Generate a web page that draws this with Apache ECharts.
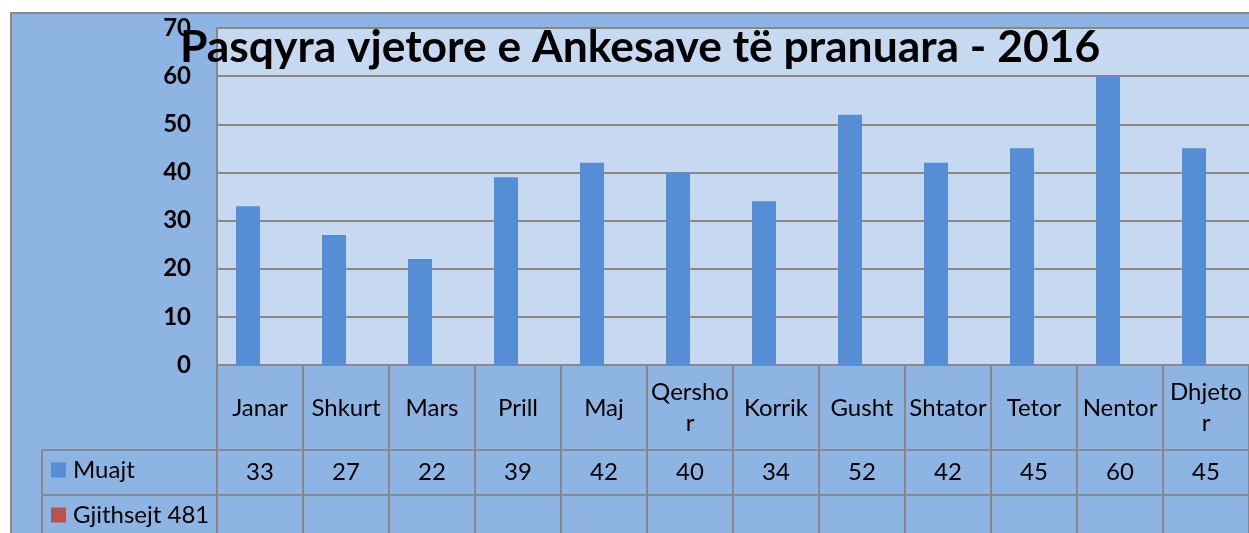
<!DOCTYPE html>
<html>
<head>
<meta charset="utf-8">
<script src="https://cdn.jsdelivr.net/npm/echarts@6/dist/echarts.min.js"></script>
<style>
html,body{margin:0;padding:0;width:1249px;height:533px;overflow:hidden;background:#fff;}
#frame{position:absolute;left:10px;top:12px;width:1300px;height:600px;background:#8EB4E3;border:2px solid #888;box-sizing:border-box;}
#chart{position:absolute;left:0;top:0;width:1249px;height:533px;}
</style>
</head>
<body>
<div id="frame"></div>
<div id="chart"></div>
<script>
const titleText = 'Pasqyra vjetore e Ankesave të pranuara - 2016';
const categories = ['Janar','Shkurt','Mars','Prill','Maj','Qershor','Korrik','Gusht','Shtator','Tetor','Nentor','Dhjetor'];
const muajt = [33,27,22,39,42,40,34,52,42,45,60,45];
const gjithsejt = [null,null,null,null,null,null,null,null,null,null,null,null];
const seriesNames = ['Muajt','Gjithsejt 481'];
const yTicks = [0,10,20,30,40,50,60,70];

const wrapped = {'Qershor':'Qersho\nr','Dhjetor':'Dhjeto\nr'};
const FONT = 'Lato';
const LINE = '#888888';
const legendText = {fontFamily: FONT, fontSize: 24, color: '#000', padding: [0,0,0,2]};

const chart = echarts.init(document.getElementById('chart'), null, {renderer:'canvas'});
chart.setOption({
  backgroundColor: 'transparent',
  animation: false,
  title: {
    text: titleText,
    left: 180, top: 26, padding: 0,
    z: 20,
    textStyle: {fontFamily: FONT, fontWeight: 'bold', fontSize: 44.4, color: '#000'}
  },
  legend: [
    {
      left: 51, top: 458, padding: 0,
      icon: 'rect', itemWidth: 15, itemHeight: 15,
      data: [seriesNames[0]], textStyle: legendText
    },
    {
      left: 51, top: 503, padding: 0,
      icon: 'rect', itemWidth: 15, itemHeight: 15,
      data: [seriesNames[1]], textStyle: legendText
    }
  ],
  grid: {
    left: 217, top: 28, right: -8, bottom: 168,
    show: true, backgroundColor: '#C6D9F1', borderWidth: 0
  },
  xAxis: [
    {
      type: 'category', data: categories, position: 'bottom',
      axisLine: {show: true, lineStyle: {color: LINE, width: 2}},
      axisTick: {show: true, length: 200, lineStyle: {color: LINE, width: 2}},
      axisLabel: {
        margin: 43, verticalAlign: 'middle', lineHeight: 31, interval: 0,
        fontFamily: FONT, fontSize: 24, color: '#000',
        formatter: v => wrapped[v] || v
      }
    },
    {
      type: 'category', data: categories, position: 'bottom', offset: 85,
      axisLine: {show: true, lineStyle: {color: LINE, width: 2}},
      axisTick: {show: false},
      axisLabel: {
        margin: 22, verticalAlign: 'middle', interval: 0,
        fontFamily: FONT, fontSize: 24, color: '#000',
        formatter: (v, i) => String(muajt[i])
      }
    },
    {
      type: 'category', data: categories, position: 'bottom', offset: 130,
      axisLine: {show: true, lineStyle: {color: LINE, width: 2}},
      axisTick: {show: false},
      axisLabel: {show: false}
    }
  ],
  yAxis: {
    type: 'value', min: 0, max: 70, interval: 10,
    axisLine: {show: true, lineStyle: {color: LINE, width: 2}},
    axisTick: {show: false},
    splitLine: {show: true, lineStyle: {color: LINE, width: 2}},
    axisLabel: {
      margin: 26, fontFamily: FONT, fontWeight: 'bold', fontSize: 24, color: '#000',
      formatter: v => yTicks.includes(v) ? String(v) : ''
    }
  },
  graphic: [
    {type: 'line', shape: {x1: 42, y1: 450, x2: 217, y2: 450}, style: {stroke: LINE, lineWidth: 2}},
    {type: 'line', shape: {x1: 42, y1: 495, x2: 217, y2: 495}, style: {stroke: LINE, lineWidth: 2}},
    {type: 'line', shape: {x1: 42, y1: 450, x2: 42, y2: 540}, style: {stroke: LINE, lineWidth: 2}}
  ],
  series: [
    {name: seriesNames[0], type: 'bar', data: muajt, barWidth: 24, barGap: '0%', itemStyle: {color: '#558ED5'}},
    {name: seriesNames[1], type: 'bar', data: gjithsejt, barWidth: 24, barGap: '0%', itemStyle: {color: '#C0504D'}}
  ]
});
</script>
</body>
</html>
